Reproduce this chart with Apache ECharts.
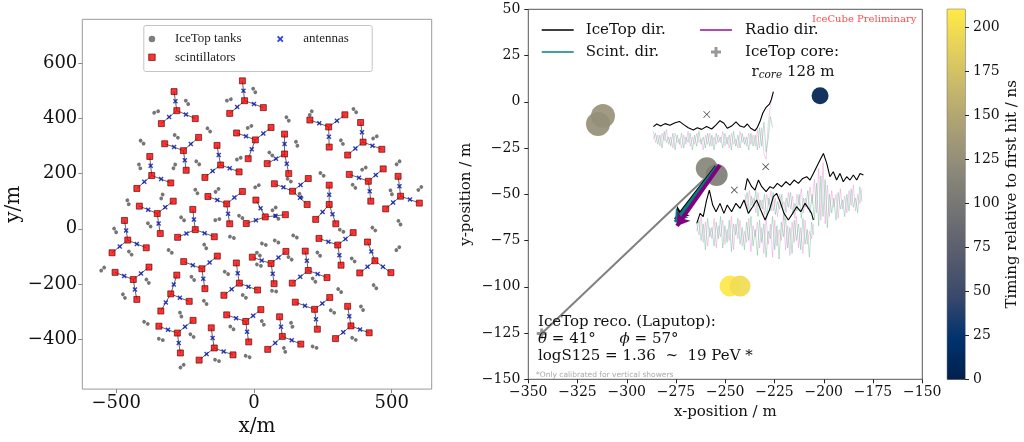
<!DOCTYPE html>
<html><head><meta charset="utf-8">
<script src="https://cdn.jsdelivr.net/npm/echarts@6/dist/echarts.min.js"></script>
<style>html,body{margin:0;padding:0;background:#fff}#c{width:1024px;height:442px}</style>
</head><body><div id="c"></div>
<script>
// ================= DATA =================
// Left panel: surface array layout (m)
const scintCenters = [[-280,428],[-34,464],[-256,283],[5,322],[271,369],[396,314],[111,271],[-121,231],[-371,193],[140,136],[415,172],[532,118],[-99,90],[-351,55],[41,43],[273,88],[-458,-41],[-213,-3],[304,-59],[439,-116],[62,-126],[-189,-145],[-438,-184],[197,-151],[-53,-197],[-302,-236],[220,-292],[-30,-336],[352,-352],[-278,-378],[103,-390],[-144,-432]];
const scintEnds = [
[-290,497],[-213,399],[-336,381], [-42,536],[34,439],[-88,418], [-324,308],[-201,331],[-246,212], [-63,347],[62,367],[-21,254],
[203,394],[330,413],[273,296], [387,385],[464,288],[340,267], [111,343],[126,200],[48,236], [-134,302],[-54,206],[-178,186],
[-378,262],[-302,166],[-425,146], [74,163],[197,182],[193,88], [346,197],[469,217],[424,100], [523,190],[600,93],[478,72],
[-167,117],[-42,135],[-88,18], [-416,82],[-293,100],[-340,-17], [7,104],[114,51],[-28,19], [273,158],[224,34],[297,18],
[-470,30],[-391,-69],[-515,-87], [-222,70],[-144,-29],[-277,-31], [236,-35],[360,-14],[316,-132], [412,-48],[384,-160],[497,-159],
[-6,-103],[116,-82],[73,-199], [-255,-119],[-133,-99],[-178,-217], [-504,-158],[-381,-139],[-425,-256], [186,-81],[265,-177],[139,-197],
[-64,-124],[13,-222],[-109,-241], [-280,-168],[-235,-263],[-338,-298], [150,-266],[275,-249],[230,-364], [-99,-312],[25,-293],[-19,-410],
[340,-281],[418,-377],[296,-398], [-345,-353],[-221,-332],[-267,-450], [93,-319],[170,-418],[50,-437], [-155,-359],[-76,-457],[-199,-476]];
const antennas = [
[-285,462],[-247,414],[-308,405], [-38,500],[0,452],[-61,441], [-290,296],[-229,307],[-251,248], [-29,335],[34,345],[-8,288],
[237,382],[301,391],[272,333], [392,350],[430,301],[368,291], [111,307],[119,236],[80,254], [-128,267],[-88,219],[-150,209],
[-375,228],[-337,180],[-398,170], [107,150],[169,159],[167,112], [381,185],[442,195],[420,136], [528,154],[566,106],[505,95],
[-133,104],[-71,113],[-94,54], [-384,69],[-322,78],[-346,19], [24,74],[78,47],[7,31], [273,123],[249,61],[285,53],
[-464,-6],[-425,-55],[-487,-64], [-218,34],[-179,-16],[-245,-17], [270,-47],[332,-37],[310,-96], [426,-82],[412,-138],[468,-138],
[28,-115],[89,-104],[68,-163], [-222,-132],[-161,-122],[-184,-181], [-471,-171],[-410,-162],[-432,-220], [192,-116],[231,-164],[168,-174],
[-59,-161],[-20,-210],[-81,-219], [-291,-202],[-269,-250],[-320,-267], [185,-279],[248,-271],[225,-328], [-65,-324],[-3,-315],[-25,-373],
[346,-317],[385,-365],[324,-375], [-312,-366],[-250,-355],[-273,-414], [98,-355],[137,-404],[77,-414], [-150,-396],[-110,-445],[-172,-454]];
const tanks = [[-355,423],[-243,458],[-406,314],[-282,335],[-164,358],[-91,467],[1,501],[-16,369],[-415,226],[-289,226],
[-204,239],[-55,254],[-457,96],[-334,117],[-209,135],[-48,43],[-504,-6],[-380,14],[-259,36],[-133,33],
[11,154],[122,398],[206,419],[366,428],[155,308],[319,314],[439,331],[61,271],[247,197],[399,218],
[523,239],[128,176],[169,120],[363,154],[498,132],[602,146],[73,72],[318,-7],[435,-1],[528,22],
[-449,-88],[-304,-82],[-177,-64],[-80,-31],[-549,-146],[-386,-190],[-222,-180],[-100,-160],[-472,-244],[-177,-267],
[-35,-245],[-266,-311],[-392,-341],[-80,-359],[-338,-401],[-225,-387],[-134,-477],[-23,-463],[-261,-498],[36,-56],
[82,-46],[149,-28],[16,-92],[18,-132],[131,-107],[235,-92],[360,-113],[522,-72],[218,-186],[73,-226],
[311,-224],[439,-210],[392,-288],[285,-300],[137,-348],[32,-341],[363,-399],[111,-439],[220,-429],[-134,139],[83,41]];
const tankOrient = [20,-55,-45,-40,-50,20,-60,30,-70,65, -45,25,-70,70,-60,-35,-60,-50,-45,15,
30,-55,60,-50,-70,-60,30,-45,-40,30, 45,-40,-60,-50,-70,45,40,-30,-45,-60,
-50,-40,-60,-20,45,-55,-50,-35,-60,-50, -40,-70,-30,-40,-20,-40,-20,-20,40,-20,
-30,-30,-45,-20,-40,-50,-45,45,-50,-10, -45,-50,-60,-35,-70,-60,-30,-70,-20,45,-40];
const xTicksLeft = [-500, 0, 500];
const yTicksLeft = [-400, -200, 0, 200, 400, 600];

// Right panel: event view (m, ns)
const hitX = [-312.1, -314.6, -201.9, -259.4, -254.4, -247.6, -242.5];
const hitY = [-7.7, -12.0, 3.3, -35.9, -39.6, -99.6, -99.6];
const hitT = [128, 125, 2, 115, 106, 208, 198];
const corePos = [[-343.2, -125.2]];
const coreLine = [[-343.2, -125.2], [-253.7, -34.7]];
const dirIceTop = [[-254.3, -35.2], [-275.0, -63.9]];
const dirScint = [[-254.3, -35.2], [-275.5, -65.0]];
const dirRadio = [[-252.8, -34.2], [-274.5, -67.1]];
const antennaMarks = [[-259.4, -6.8], [-229.5, -35.1], [-245.4, -47.7]];
const env1 = [[-286.5,-13.4],[-284.8,-12.0],[-282.8,-13.1],[-280.6,-11.8],[-278.1,-12.7],[-275.5,-11.3],[-273.3,-10.6],[-271.3,-12.2],[-268.8,-14.0],[-266.2,-15.2],[-264.2,-14.0],[-262.0,-14.9],[-259.5,-13.4],[-256.9,-14.7],[-254.7,-12.5],[-252.7,-10.2],[-250.7,-11.6],[-249.0,-14.3],[-246.8,-13.1],[-244.6,-10.9],[-242.5,-13.1],[-240.5,-13.8],[-238.8,-12.0],[-237.1,-14.3],[-234.9,-15.6],[-233.7,-13.8],[-232.4,-10.7],[-231.0,-6.2],[-229.3,-3.0],[-227.6,-1.2],[-226.6,1.3],[-225.6,5.5]];
const env2 = [[-240.0,-47.7],[-238.8,-41.4],[-236.6,-45.9],[-234.9,-47.7],[-233.2,-42.3],[-231.5,-45.9],[-229.3,-48.6],[-227.3,-45.9],[-225.6,-46.8],[-223.6,-44.1],[-221.4,-45.9],[-219.2,-43.2],[-217.2,-45.0],[-215.1,-42.3],[-212.9,-44.1],[-210.7,-41.4],[-208.7,-40.5],[-207.0,-42.3],[-205.3,-38.7],[-203.6,-35.1],[-201.9,-31.5],[-200.2,-27.9],[-198.5,-33.3],[-196.9,-40.5],[-195.2,-37.8],[-193.5,-42.3],[-191.8,-38.7],[-190.1,-43.2],[-188.4,-40.5],[-186.7,-42.3],[-185.0,-39.6],[-183.3,-42.3],[-181.6,-38.7],[-179.9,-39.6]];
const env3 = [[-264.5,-65.7],[-262.8,-60.3],[-261.2,-62.1],[-259.5,-53.1],[-258.1,-47.7],[-256.4,-55.8],[-254.7,-59.4],[-252.7,-54.9],[-250.7,-60.3],[-249.0,-55.8],[-246.8,-59.4],[-244.6,-54.9],[-242.5,-57.6],[-240.5,-53.1],[-238.3,-60.3],[-236.1,-56.7],[-234.1,-53.1],[-232.0,-58.5],[-229.8,-63.9],[-227.6,-58.5],[-225.6,-51.3],[-223.9,-49.5],[-222.2,-54.0],[-220.2,-60.3],[-218.0,-63.9],[-215.8,-60.3],[-213.8,-56.7],[-211.7,-59.4],[-209.5,-54.9],[-207.8,-57.6],[-206.2,-60.3],[-205.3,-63.9]];
// polarisation traces: first sample position and spacing along x (m), then sample values (m)
const traceStart = [-286.5, -240.0, -264.5];
const traceStep = 1.1;
const pol1A = [-16,-22,-18,-24,-17,-21,-15,-23,-19,-25,-17,-22,-20,-25,-18,-23,-16,-24,-19,-23,-17,-22,-20,-26,-18,-23,-17,-24,-19,-23,-18,-22,-16,-24,-19,-25,-17,-23,-20,-25,-16,-22,-19,-24,-17,-23,-18,-24,-15,-25,-14,-28,-31,-12,-2,4];
const pol1B = [-20,-17,-23,-18,-25,-16,-22,-19,-24,-17,-26,-18,-23,-17,-25,-19,-22,-17,-26,-18,-24,-16,-23,-19,-25,-17,-24,-18,-26,-17,-22,-19,-25,-17,-23,-18,-26,-16,-24,-18,-25,-17,-23,-19,-26,-17,-24,-18,-26,-14,-24,-11,-27,-20,-8,-14];
const pol2A = [-50,-58,-48,-56,-52,-60,-49,-57,-53,-61,-50,-56,-48,-59,-52,-62,-50,-57,-54,-60,-49,-58,-51,-63,-50,-56,-47,-60,-52,-58,-46,-55,-42,-60,-36,-64,-33,-66,-45,-62,-48,-57,-50,-63,-47,-58,-51,-60,-48,-56,-45,-59,-50,-55,-47];
const pol2B = [-55,-49,-60,-51,-57,-48,-62,-53,-58,-50,-63,-52,-59,-49,-61,-54,-58,-50,-64,-52,-57,-49,-61,-55,-59,-50,-63,-52,-57,-48,-60,-50,-64,-44,-67,-40,-62,-42,-68,-50,-60,-52,-64,-49,-58,-53,-62,-50,-59,-47,-57,-52,-60,-46,-54];
const pol3A = [-66,-72,-62,-76,-65,-78,-68,-74,-63,-79,-67,-73,-64,-77,-69,-75,-62,-80,-66,-74,-64,-78,-70,-76,-63,-81,-67,-73,-65,-79,-68,-82,-62,-77,-66,-84,-64,-78,-69,-75,-61,-80,-67,-83,-65,-76,-62,-79,-68,-82,-64,-77,-70,-74,-66];
const pol3B = [-70,-64,-75,-66,-80,-63,-73,-68,-78,-65,-74,-62,-79,-67,-76,-64,-81,-66,-72,-63,-77,-68,-80,-65,-75,-62,-78,-69,-83,-64,-76,-66,-84,-70,-74,-62,-80,-67,-85,-65,-73,-63,-79,-68,-82,-64,-75,-66,-80,-63,-77,-69,-84,-65,-72];
const timingMin = 0, timingMax = 210;

// ================= STYLE =================
const SERIF = 'DejaVu Serif';
const CIVIDIS = ['#00204D','#00336F','#39486B','#575C6D','#707173','#8A8779','#A69D75','#C4B56C','#E4CF5B','#FFEA46'];
const HIT_SIZES = [24, 24, 17, 22, 22, 21, 21];
const TANK_PATH = 'path://M0,5a5,5 0 1,1 10,0a5,5 0 1,1 -10,0zM11,5a5,5 0 1,1 10,0a5,5 0 1,1 -10,0z';
const X_PATH = 'path://M2,0L5,3L8,0L10,2L7,5L10,8L8,10L5,7L2,10L0,8L3,5L0,2Z';
const THIN_X = 'path://M0.7,0L5,4.3L9.3,0L10,0.7L5.7,5L10,9.3L9.3,10L5,5.7L0.7,10L0,9.3L4.3,5L0,0.7Z';
const PLUS_PATH = 'path://M3.5,0H6.5V3.5H10V6.5H6.5V10H3.5V6.5H0V3.5H3.5Z';
const SQUARE_PATH = 'path://M0,0H10V10H0Z';
const LINE_ICON = 'path://M0,0H32V1.6H0Z';
const minus = v => (v < 0 ? '\u2212' : '') + Math.abs(v);

// ================= BUILD =================
const arms = [];
scintCenters.forEach((c, s) => {
  for (let k = 0; k < 3; k++) arms.push({ coords: [scintEnds[3*s+k], antennas[3*s+k], c] });
});
const tankData = tanks.map((p, i) => ({ value: p, symbolRotate: tankOrient[i] }));
const hits = hitX.map((x, i) => [x, hitY[i], hitT[i]]);
const pol = (start, vals) => vals.map((v, i) => [start + i * traceStep, v]);

const L = { xAxisIndex: 0, yAxisIndex: 0 };
const R = { xAxisIndex: 1, yAxisIndex: 1 };
const thin = (data, color) => Object.assign({ type: 'line', data, symbol: 'none', silent: true, lineStyle: { color, width: 0.6, opacity: 0.7 }, z: 5 }, R);
const env = data => Object.assign({ type: 'line', data, symbol: 'none', silent: true, lineStyle: { color: '#000', width: 1.1 }, z: 6 }, R);
const arrow = (name, coords, color, width) => Object.assign({
  type: 'lines', name, coordinateSystem: 'cartesian2d', polyline: false, symbol: ['none', 'arrow'], symbolSize: 12,
  lineStyle: { color, width, opacity: 1 }, itemStyle: { color }, data: [{ coords }], z: 4, silent: true }, R);

const series = [
  Object.assign({ type: 'lines', coordinateSystem: 'cartesian2d', polyline: true, data: arms, silent: true,
    lineStyle: { color: '#3c3c3c', width: 0.8, opacity: 1 }, z: 1 }, L),
  Object.assign({ type: 'scatter', name: 'IceTop tanks', data: tankData, symbol: TANK_PATH, symbolSize: [8, 3.8],
    itemStyle: { color: '#6e6e6e', opacity: 0.95 }, z: 2 }, L),
  Object.assign({ type: 'scatter', name: 'antennas', data: antennas, symbol: X_PATH, symbolSize: 5,
    itemStyle: { color: '#0010b0' }, z: 3 }, L),
  Object.assign({ type: 'scatter', name: 'scintillators', data: scintCenters.concat(scintEnds), symbol: 'rect', symbolSize: 6,
    itemStyle: { color: '#ff0000', borderColor: '#4a0000', borderWidth: 0.8 }, z: 4 }, L),
  Object.assign({ type: 'line', data: coreLine, symbol: 'none', silent: true, lineStyle: { color: '#808080', width: 2 }, z: 2 }, R),
  Object.assign({ type: 'scatter', name: 'timing', data: hits, symbolSize: (v, p) => HIT_SIZES[p.dataIndex],
    itemStyle: { opacity: 0.92 }, z: 3 }, R),
  arrow('IceTop dir.', dirIceTop, '#000000', 5),
  arrow('Scint. dir.', dirScint, '#008080', 3.5),
  arrow('Radio dir.', dirRadio, '#800080', 4),
  Object.assign({ type: 'scatter', name: 'IceTop core:', data: corePos, symbol: PLUS_PATH, symbolSize: 10,
    itemStyle: { color: '#808080' }, z: 3 }, R),
  thin(pol(traceStart[0], pol1A), '#e38ad6'), thin(pol(traceStart[0], pol1B), '#5cb884'),
  thin(pol(traceStart[1], pol2A), '#e38ad6'), thin(pol(traceStart[1], pol2B), '#5cb884'),
  thin(pol(traceStart[2], pol3A), '#e38ad6'), thin(pol(traceStart[2], pol3B), '#5cb884'),
  env(env1), env(env2), env(env3),
  Object.assign({ type: 'scatter', data: antennaMarks, symbol: THIN_X, symbolSize: 7, itemStyle: { color: '#000' }, z: 7, silent: true }, R),
  { type: 'custom', xAxisIndex: 2, yAxisIndex: 2, data: [[0, timingMax]], silent: true,
    renderItem: (params, api) => {
      const p0 = api.coord([0, timingMin]), p1 = api.coord([1, timingMax]);
      return { type: 'rect', shape: { x: p0[0], y: p1[1], width: p1[0] - p0[0], height: p0[1] - p1[1] },
        style: { fill: new echarts.graphic.LinearGradient(0, 1, 0, 0, CIVIDIS.map((c, i) => ({ offset: i / (CIVIDIS.length - 1), color: c }))) } };
    } }
];
const hitIdx = series.findIndex(s => s.name === 'timing');

const leftAxisCommon = {
  axisLine: { show: false, onZero: false }, splitLine: { show: false },
  axisTick: { show: true, inside: false, length: 4, lineStyle: { color: '#888' } },
  axisLabel: { fontFamily: SERIF, fontSize: 18, color: '#111', margin: 5, formatter: minus },
  nameTextStyle: { fontFamily: SERIF, fontSize: 20, color: '#111' }, nameLocation: 'middle'
};
const rightAxisCommon = {
  axisLine: { show: false, onZero: false }, splitLine: { show: false },
  axisTick: { show: true, inside: false, length: 4, lineStyle: { color: '#222' } },
  axisLabel: { fontFamily: SERIF, fontSize: 14, color: '#111', formatter: minus },
  nameTextStyle: { fontFamily: SERIF, fontSize: 15, color: '#111' }, nameLocation: 'middle'
};
const noStroke = { lineStyle: { width: 0 }, itemStyle: { borderWidth: 0 } };

const option = {
  animation: false,
  backgroundColor: '#fff',
  grid: [
    { left: 82.3, top: 19.3, width: 349.4, height: 370.7, show: true, borderColor: '#9a9a9a', borderWidth: 1, backgroundColor: 'transparent' },
    { left: 528.3, top: 9.3, width: 394, height: 370, show: true, borderColor: '#555', borderWidth: 1, backgroundColor: 'transparent' },
    { left: 947.3, top: 9.3, width: 17.7, height: 370, show: true, borderColor: '#222', borderWidth: 0.8, backgroundColor: 'transparent' }
  ],
  xAxis: [
    Object.assign({}, leftAxisCommon, { gridIndex: 0, type: 'value', min: -623, max: 645, name: 'x/m', nameGap: 25,
      axisTick: Object.assign({}, leftAxisCommon.axisTick, { customValues: xTicksLeft }),
      axisLabel: Object.assign({}, leftAxisCommon.axisLabel, { customValues: xTicksLeft }) }),
    Object.assign({}, rightAxisCommon, { gridIndex: 1, type: 'value', min: -350, max: -150, interval: 25, name: 'x-position / m', nameGap: 24,
      axisLabel: Object.assign({}, rightAxisCommon.axisLabel, { margin: 6 }) }),
    { gridIndex: 2, type: 'value', min: 0, max: 1, show: false }
  ],
  yAxis: [
    Object.assign({}, leftAxisCommon, { gridIndex: 0, type: 'value', min: -581, max: 759, name: 'y/m', nameGap: 55, nameRotate: 90,
      axisTick: Object.assign({}, leftAxisCommon.axisTick, { customValues: yTicksLeft }),
      axisLabel: Object.assign({}, leftAxisCommon.axisLabel, { customValues: yTicksLeft }) }),
    Object.assign({}, rightAxisCommon, { gridIndex: 1, type: 'value', min: -150, max: 50, interval: 25, name: 'y-position / m', nameGap: 55, nameRotate: 90,
      axisLabel: Object.assign({}, rightAxisCommon.axisLabel, { margin: 8 }) }),
    Object.assign({}, rightAxisCommon, { gridIndex: 2, type: 'value', position: 'right', min: timingMin, max: timingMax, interval: 25,
      name: 'Timing relative to first hit / ns', nameGap: 40, nameRotate: 90,
      axisLabel: Object.assign({}, rightAxisCommon.axisLabel, { margin: 8, showMaxLabel: false }) })
  ],
  visualMap: [{ type: 'continuous', show: false, seriesIndex: hitIdx, dimension: 2, min: timingMin, max: timingMax, inRange: { color: CIVIDIS } }],
  legend: [
    { orient: 'vertical', left: 148.3, top: 32.5, padding: 0, itemWidth: 30, itemHeight: 6.5, itemGap: 5.3, selectedMode: false,
      textStyle: { fontFamily: 'Liberation Serif', fontSize: 13, lineHeight: 13, color: '#222', padding: [0, 0, 0, 3] },
      data: [{ name: 'IceTop tanks', icon: 'circle', itemStyle: { color: '#777', borderWidth: 0 } },
             { name: 'scintillators', icon: SQUARE_PATH, itemStyle: { color: '#ff0000', borderColor: '#4a0000', borderWidth: 0.8 } }] },
    { orient: 'vertical', left: 277, top: 32.5, padding: 0, itemWidth: 30, itemHeight: 6.5, selectedMode: false,
      textStyle: { fontFamily: 'Liberation Serif', fontSize: 13, lineHeight: 13, color: '#222', padding: [0, 0, 0, 3] },
      data: [{ name: 'antennas', icon: X_PATH, itemStyle: { color: '#0010d0', borderWidth: 0 } }] },
    Object.assign({ orient: 'vertical', left: 541.7, top: 22.5, padding: 0, itemWidth: 32, itemHeight: 10, itemGap: 7, selectedMode: false,
      textStyle: { fontFamily: SERIF, fontSize: 15, lineHeight: 15, color: '#111', padding: [0, 0, 0, 7] },
      data: [{ name: 'IceTop dir.', icon: LINE_ICON, itemStyle: { color: '#000', borderWidth: 0 }, lineStyle: { width: 0 } },
             { name: 'Scint. dir.', icon: LINE_ICON, itemStyle: { color: '#008080', borderWidth: 0 }, lineStyle: { width: 0 } }] }, noStroke),
    Object.assign({ orient: 'vertical', left: 700, top: 22.5, padding: 0, itemWidth: 32, itemHeight: 10, itemGap: 7, selectedMode: false,
      textStyle: { fontFamily: SERIF, fontSize: 15, lineHeight: 15, color: '#111', padding: [0, 0, 0, 8] },
      data: [{ name: 'Radio dir.', icon: LINE_ICON, itemStyle: { color: '#9a209a', borderWidth: 0 }, lineStyle: { width: 0 } },
             { name: 'IceTop core:', icon: PLUS_PATH, itemStyle: { color: '#808080', borderWidth: 0 } }] }, noStroke)
  ],
  graphic: [
    { type: 'rect', left: 143.3, top: 25, z: 3, shape: { width: 228.4, height: 46, r: 2 }, style: { fill: '#fff', stroke: '#c4c4c4', lineWidth: 1 } },
    { type: 'text', x: 793, y: 72, z: 10, style: { text: 'r{s|core} 128 m', align: 'center', verticalAlign: 'middle', fontFamily: SERIF, fontSize: 15, fill: '#111',
      rich: { s: { fontFamily: SERIF, fontSize: 10.5, fontStyle: 'italic', verticalAlign: 'bottom', padding: [7, 0, 0, 0], fill: '#111' } } } },
    { type: 'text', x: 812, y: 19, z: 10, style: { text: 'IceCube Preliminary', align: 'left', verticalAlign: 'middle', fontFamily: SERIF, fontSize: 10, fill: '#ff4d4d' } },
    { type: 'text', x: 538, y: 322, z: 10, style: { text: 'IceTop reco. (Laputop):', align: 'left', verticalAlign: 'middle', fontFamily: SERIF, fontSize: 15, fill: '#111' } },
    { type: 'text', x: 538, y: 339.5, z: 10, style: { text: '{i|θ} = 41°     {i|ϕ} = 57°', align: 'left', verticalAlign: 'middle', fontFamily: SERIF, fontSize: 15, fill: '#111',
      rich: { i: { fontFamily: SERIF, fontSize: 15, fontStyle: 'italic', fill: '#111' } } } },
    { type: 'text', x: 538, y: 356.5, z: 10, style: { text: 'logS125 = 1.36  ~  19 PeV *', align: 'left', verticalAlign: 'middle', fontFamily: SERIF, fontSize: 15, fill: '#111' } },
    { type: 'text', x: 536, y: 375, z: 10, style: { text: '*Only calibrated for vertical showers', align: 'left', verticalAlign: 'middle', fontFamily: 'DejaVu Sans', fontSize: 7.5, fill: '#aaaaaa' } }
  ],
  series
};
const chart = echarts.init(document.getElementById('c'), null, { renderer: 'canvas' });
chart.setOption(option);
</script></body></html>
